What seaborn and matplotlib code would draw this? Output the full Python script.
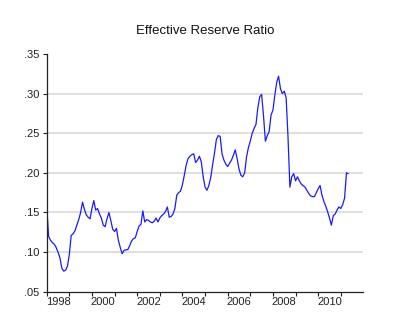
import numpy as np
import pandas as pd
import seaborn as sns
import matplotlib
matplotlib.use("Agg")
import matplotlib.pyplot as plt
from matplotlib.ticker import FixedLocator, FuncFormatter

# Monthly effective reserve ratio, Jan 1998 onward
start_year = 1998
ratio = [
    0.160, 0.120, 0.115, 0.112, 0.110, 0.106, 0.100, 0.093, 0.080, 0.076, 0.077, 0.082,  # 1998
    0.097, 0.121, 0.123, 0.127, 0.134, 0.141, 0.150, 0.163, 0.154, 0.147, 0.144, 0.142,  # 1999
    0.155, 0.165, 0.153, 0.155, 0.148, 0.143, 0.134, 0.132, 0.142, 0.150, 0.140, 0.129,  # 2000
    0.126, 0.130, 0.115, 0.106, 0.098, 0.102, 0.103, 0.103, 0.108, 0.114, 0.117, 0.118,  # 2001
    0.126, 0.133, 0.135, 0.152, 0.138, 0.141, 0.140, 0.138, 0.137, 0.139, 0.143, 0.138,  # 2002
    0.143, 0.146, 0.148, 0.151, 0.157, 0.144, 0.145, 0.148, 0.155, 0.172, 0.175, 0.177,  # 2003
    0.185, 0.197, 0.210, 0.218, 0.221, 0.223, 0.224, 0.213, 0.216, 0.221, 0.214, 0.195,  # 2004
    0.182, 0.178, 0.184, 0.194, 0.210, 0.225, 0.242, 0.247, 0.246, 0.224, 0.216, 0.211,  # 2005
    0.208, 0.212, 0.216, 0.222, 0.229, 0.218, 0.205, 0.197, 0.195, 0.200, 0.220, 0.232,  # 2006
    0.240, 0.250, 0.256, 0.261, 0.282, 0.296, 0.299, 0.272, 0.240, 0.247, 0.252, 0.273,  # 2007
    0.279, 0.298, 0.314, 0.322, 0.306, 0.300, 0.303, 0.295, 0.245, 0.182, 0.195, 0.199,  # 2008
    0.190, 0.195, 0.190, 0.186, 0.184, 0.182, 0.178, 0.174, 0.171, 0.170, 0.170, 0.175,  # 2009
    0.180, 0.184, 0.172, 0.164, 0.158, 0.151, 0.143, 0.134, 0.146, 0.148, 0.153, 0.157,  # 2010
    0.155, 0.160, 0.168, 0.200, 0.199,                                                  # 2011
]
y_ticks = [0.05, 0.10, 0.15, 0.20, 0.25, 0.30, 0.35]
year_labels = [1998, 2000, 2002, 2004, 2006, 2008, 2010]

df = pd.DataFrame({
    "t": start_year + np.arange(len(ratio)) / 12.0,
    "ratio": ratio,
})

sns.set_style("white")
plt.rcParams["font.family"] = ["Liberation Sans", "DejaVu Sans"]

fig = plt.figure(figsize=(3.98, 3.30), dpi=100)
ax = fig.add_axes([0.1173, 0.116, 0.7947, 0.7204])

sns.lineplot(data=df, x="t", y="ratio", ax=ax, color="#1a1aff", linewidth=0.9)

ax.set_xlim(1998.0, 2011.98)
ax.set_ylim(0.05, 0.35)

# horizontal grid at inner ticks
for v in y_ticks[1:-1]:
    ax.axhline(v, color="#d6d6d6", linewidth=1.1, zorder=0)

ax.yaxis.set_major_locator(FixedLocator(y_ticks))
ax.yaxis.set_major_formatter(FuncFormatter(lambda v, p: f"{v:.2f}".lstrip("0")))

# year ticks at each year boundary, labels centred in the year
ax.xaxis.set_major_locator(FixedLocator(list(range(1998, 2012))))
ax.xaxis.set_major_formatter(FuncFormatter(lambda v, p: ""))
ax.xaxis.set_minor_locator(FixedLocator([y + 0.5 for y in year_labels]))
ax.xaxis.set_minor_formatter(FuncFormatter(lambda v, p: str(int(v))))

ax.tick_params(axis="x", which="major", direction="out", length=3, width=0.8, color="#222222")
ax.tick_params(axis="x", which="minor", length=0, labelsize=8, pad=4, labelcolor="#222222")
ax.tick_params(axis="y", which="major", direction="out", length=3, width=0.8, color="#222222",
               labelsize=8, pad=2, labelcolor="#222222")
ax.tick_params(left=True, bottom=True)

for side in ("top", "right"):
    ax.spines[side].set_visible(False)
for side in ("left", "bottom"):
    ax.spines[side].set_color("#222222")
    ax.spines[side].set_linewidth(0.9)

ax.set_xlabel("")
ax.set_ylabel("")
fig.text(0.515, 0.905, "Effective Reserve Ratio", ha="center", va="center", fontsize=9.5, color="#111111")

fig.savefig("out.png", dpi=100)
